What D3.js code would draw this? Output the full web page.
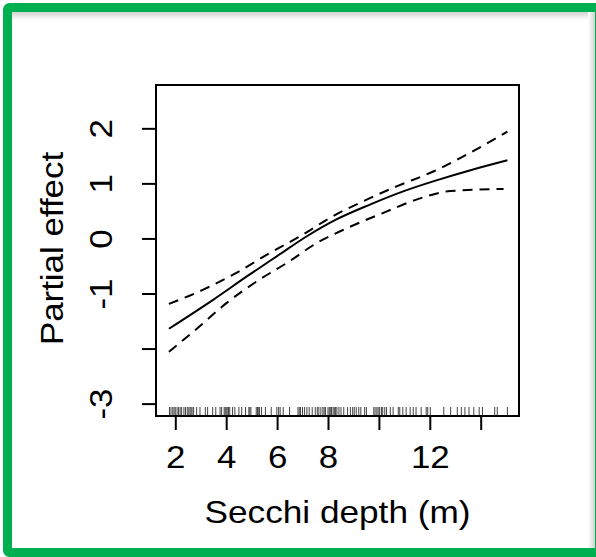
<html>

<head>
  <script src="https://d3js.org/d3.v7.min.js"></script>
  <style>
    body {
      margin: 0;
      background-color: white;
    }

    text {
      font-family: "Liberation Sans", Arial, sans-serif;
      fill: black;
    }
  </style>
</head>

<body>
  <div id="chart"></div>
</body>

<script>
  // Data
  var fitX = [1.75, 3.5, 4.81, 6.0, 7.17, 8.35, 9.67, 10.98, 12.29, 13.6, 15.05];
  var fitY = [-1.64, -1.11, -0.69, -0.32, 0.04, 0.35, 0.62, 0.86, 1.06, 1.24, 1.42];

  var upperX = [1.75, 3.1, 4.42, 5.73, 6.91, 8.1, 9.4, 10.72, 12.16, 13.6, 15.05];
  var upperY = [-1.19, -0.93, -0.62, -0.26, 0.04, 0.38, 0.68, 0.95, 1.22, 1.56, 1.94];

  var lowerX = [1.75, 2.97, 4.02, 5.2, 6.4, 7.57, 8.76, 10.2, 11.5, 12.8, 14.9];
  var lowerY = [-2.06, -1.59, -1.17, -0.78, -0.44, -0.08, 0.19, 0.47, 0.71, 0.86, 0.90];

  var rugValues = [1.77, 1.83, 1.90, 1.95, 2.00, 2.07, 2.13, 2.19, 2.25, 2.34, 2.40, 2.47, 2.53,
    2.58, 2.62, 2.66, 2.72, 2.84, 2.97, 3.18, 3.27, 3.47, 3.59, 3.76, 3.82, 3.92, 3.96, 4.00,
    4.04, 4.09, 4.14, 4.25, 4.34, 4.50, 4.61, 4.76, 4.89, 4.93, 4.97, 5.18, 5.23, 5.28, 5.31,
    5.39, 5.54, 5.77, 5.99, 6.06, 6.12, 6.24, 6.49, 6.82, 6.87, 6.92, 7.00, 7.08, 7.17, 7.26,
    7.38, 7.50, 7.58, 7.64, 7.72, 7.80, 7.85, 7.90, 8.00, 8.05, 8.09, 8.14, 8.20, 8.25, 8.30,
    8.35, 8.43, 8.51, 8.62, 8.77, 8.88, 8.97, 9.03, 9.11, 9.21, 9.29, 9.44, 9.51, 9.80, 9.85,
    9.92, 9.97, 10.03, 10.10, 10.15, 10.23, 10.30, 10.45, 10.56, 10.76, 10.82, 10.94, 11.07,
    11.23, 11.35, 11.46, 11.66, 11.86, 11.92, 12.02, 12.55, 12.82, 13.08, 13.24, 13.38, 13.54,
    13.73, 13.94, 14.07, 14.55, 14.65, 15.05];

  var xTicks = [2, 4, 6, 8, 10, 12, 14];
  var xTickLabels = ["2", "4", "6", "8", "", "12", ""];   // R drops overlapping labels
  var yTicks = [2, 1, 0, -1, -2, -3];
  var yTickLabels = ["2", "1", "0", "-1", "", "-3"];

  var width = 596, height = 557;
  var plot = {left: 156, right: 519, top: 85, bottom: 416};
  var stretch = 1.09; // glyphs in the picture are a bit wider than Liberation Sans

  var svg = d3.select("#chart").append("svg")
    .attr("width", width).attr("height", height);

  // frame of the slide with a soft inner shadow
  var defs = svg.append("defs");
  var gTop = defs.append("linearGradient").attr("id", "shTop")
    .attr("x1", 0).attr("y1", 0).attr("x2", 0).attr("y2", 1);
  gTop.append("stop").attr("offset", "0%").attr("stop-color", "#d2d2d2");
  gTop.append("stop").attr("offset", "100%").attr("stop-color", "#ffffff");
  var gRight = defs.append("linearGradient").attr("id", "shRight")
    .attr("x1", 1).attr("y1", 0).attr("x2", 0).attr("y2", 0);
  gRight.append("stop").attr("offset", "0%").attr("stop-color", "#d2d2d2");
  gRight.append("stop").attr("offset", "100%").attr("stop-color", "#ffffff");

  svg.append("rect").attr("x", 12).attr("y", 12).attr("width", 584).attr("height", 8)
    .style("fill", "url(#shTop)");
  svg.append("rect").attr("x", 588).attr("y", 12).attr("width", 7).attr("height", 536)
    .style("fill", "url(#shRight)");
  svg.append("rect").attr("x", 7.5).attr("y", 7.5).attr("width", 592).attr("height", 545)
    .attr("rx", 2)
    .style("fill", "none").style("stroke", "#00b050").style("stroke-width", 9);

  var x = d3.scaleLinear().domain([1.242, 15.505]).range([plot.left, plot.right]);
  var y = d3.scaleLinear().domain([-3.225, 2.787]).range([plot.bottom, plot.top]);

  // rug
  svg.append("g").selectAll("line")
    .data(rugValues)
    .enter().append("line")
    .attr("x1", function(d) { return x(d); }).attr("x2", function(d) { return x(d); })
    .attr("y1", plot.bottom - 9).attr("y2", plot.bottom)
    .style("stroke", "#444").style("stroke-width", 1);

  // lines
  var line = d3.line()
    .x(function(d) { return x(d[0]); })
    .y(function(d) { return y(d[1]); })
    .curve(d3.curveMonotoneX);

  svg.append("path").datum(d3.zip(upperX, upperY)).attr("d", line)
    .style("fill", "none").style("stroke", "black").style("stroke-width", 2)
    .style("stroke-dasharray", "10,7");
  svg.append("path").datum(d3.zip(lowerX, lowerY)).attr("d", line)
    .style("fill", "none").style("stroke", "black").style("stroke-width", 2)
    .style("stroke-dasharray", "10,7");
  svg.append("path").datum(d3.zip(fitX, fitY)).attr("d", line)
    .style("fill", "none").style("stroke", "black").style("stroke-width", 2);

  // box
  svg.append("rect").attr("x", plot.left).attr("y", plot.top)
    .attr("width", plot.right - plot.left).attr("height", plot.bottom - plot.top)
    .style("fill", "none").style("stroke", "black").style("stroke-width", 2);

  // axes
  var xAxis = d3.axisBottom(x).tickValues(xTicks).tickSize(14).tickPadding(16)
    .tickFormat(function(d, i) { return xTickLabels[i]; });
  var gx = svg.append("g").attr("transform", "translate(0," + plot.bottom + ")").call(xAxis);
  gx.select(".domain").attr("d", "M" + x(2) + ",0H" + x(14)).style("stroke-width", 2);
  gx.selectAll(".tick line").style("stroke-width", 2);
  gx.selectAll("text")
    .attr("y", 52).attr("dy", null)
    .attr("transform", "scale(" + stretch + ",1)")
    .style("font-size", "32px")
    .style("font-family", "'Liberation Sans', Arial, sans-serif");

  var yAxis = d3.axisLeft(y).tickValues(yTicks).tickSize(14)
    .tickFormat(function(d, i) { return yTickLabels[i]; });
  var gy = svg.append("g").attr("transform", "translate(" + plot.left + ",0)").call(yAxis);
  gy.select(".domain").attr("d", "M0," + y(-3) + "V" + y(2)).style("stroke-width", 2);
  gy.selectAll(".tick line").style("stroke-width", 2);
  gy.selectAll("text")
    .attr("x", 0).attr("dy", null)
    .attr("transform", "translate(-44,0) rotate(-90) scale(" + stretch + ",1)")
    .style("text-anchor", "middle")
    .style("font-size", "32px")
    .style("font-family", "'Liberation Sans', Arial, sans-serif");

  // axis titles
  svg.append("text")
    .attr("transform", "translate(" + (plot.left + plot.right) / 2 + ",523) scale(1.1,1)")
    .style("text-anchor", "middle").style("font-size", "32px")
    .text("Secchi depth (m)");

  svg.append("text")
    .attr("transform", "translate(63," + ((plot.top + plot.bottom) / 2 - 2) + ") rotate(-90) scale(1.09,1)")
    .style("text-anchor", "middle").style("font-size", "32px")
    .text("Partial effect");
</script>

</html>
